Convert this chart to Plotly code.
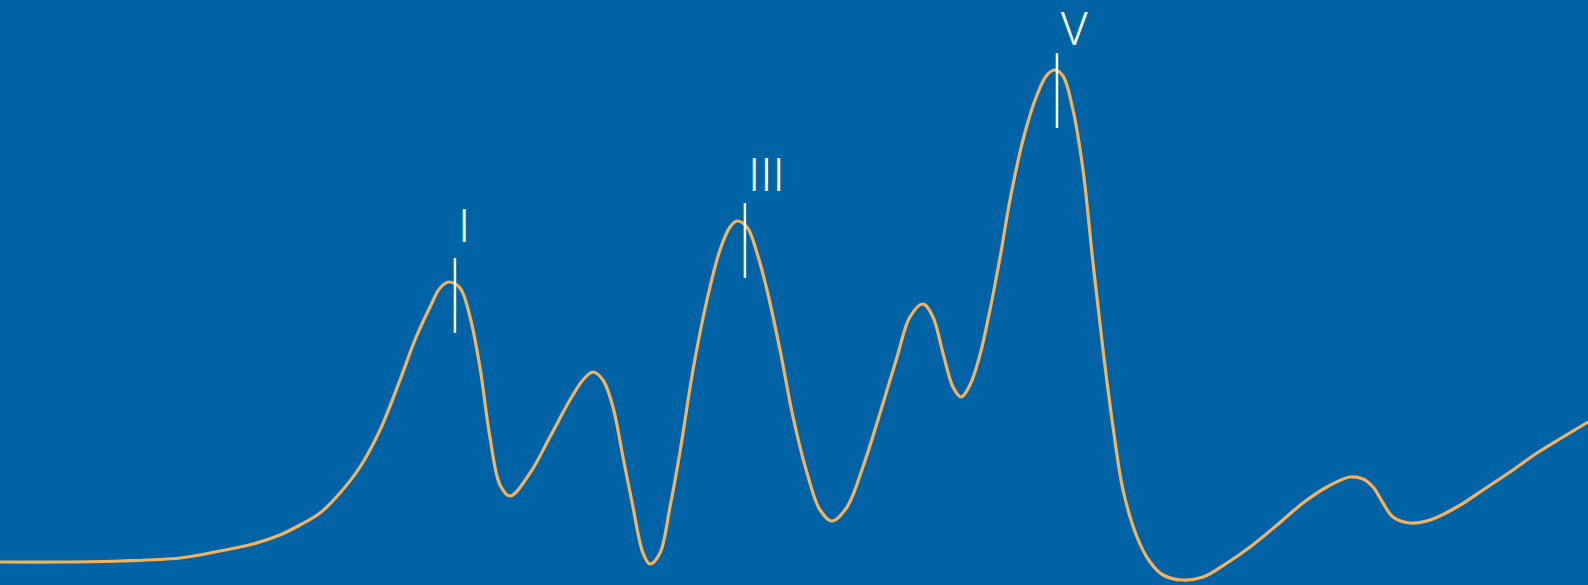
import plotly.graph_objects as go

# Waveform (latency in ms, amplitude in µV)
latency_ms = [0.0, 0.378, 0.756, 1.134, 1.354, 1.593, 1.763, 1.889, 2.015, 2.141, 2.267, 2.393, 2.519,
              2.613, 2.708, 2.771, 2.827, 2.897, 2.960, 3.023, 3.086, 3.149, 3.212, 3.338,
              3.463, 3.589, 3.671, 3.734, 3.797, 3.860, 3.923, 3.986, 4.049, 4.093, 4.156,
              4.219, 4.282, 4.364, 4.452, 4.534, 4.597, 4.641, 4.704, 4.767, 4.830, 4.912,
              4.994, 5.082, 5.164, 5.239, 5.334, 5.434, 5.542, 5.649, 5.730, 5.812, 5.875,
              5.938, 6.001, 6.052, 6.108, 6.171, 6.234, 6.297, 6.360, 6.442, 6.530, 6.593,
              6.644, 6.694, 6.757, 6.820, 6.883, 6.946, 7.009, 7.072, 7.160, 7.242, 7.324,
              7.443, 7.576, 7.727, 7.872, 8.042, 8.205, 8.356, 8.501, 8.583, 8.646, 8.709,
              8.772, 8.879, 9.005, 9.175, 9.339, 9.509, 9.679, 9.843, 10.0]
amplitude_uv = [0.23, 0.23, 0.24, 0.27, 0.33, 0.41, 0.50, 0.60, 0.72, 0.92, 1.18, 1.55, 2.05,
                2.45, 2.78, 2.97, 3.03, 2.97, 2.68, 2.17, 1.47, 1.00, 0.89, 1.12,
                1.48, 1.85, 2.05, 2.13, 2.05, 1.78, 1.28, 0.78, 0.32, 0.21, 0.32,
                0.78, 1.33, 2.15, 2.85, 3.35, 3.58, 3.64, 3.58, 3.32, 2.95, 2.35,
                1.68, 1.12, 0.75, 0.64, 0.78, 1.18, 1.72, 2.28, 2.68, 2.81, 2.68,
                2.32, 1.98, 1.88, 2.00, 2.30, 2.75, 3.27, 3.85, 4.45, 4.90, 5.10,
                5.15, 5.09, 4.75, 4.15, 3.22, 2.35, 1.58, 0.95, 0.48, 0.23, 0.10,
                0.05, 0.08, 0.22, 0.38, 0.60, 0.82, 0.98, 1.08, 1.06, 0.98, 0.82,
                0.68, 0.62, 0.65, 0.78, 0.95, 1.13, 1.32, 1.48, 1.63]

# Peak markers and labels
peak_labels = ["I", "III", "V"]
peak_latency_ms = [2.865, 4.691, 6.656]
marker_top_uv = [3.27, 3.82, 5.32]
marker_bottom_uv = [2.52, 3.07, 4.57]
label_center_uv = [3.595, 4.10, 5.565]

BG = "#0063A6"
LINE = "#F7B157"

fig = go.Figure()
fig.add_trace(go.Scatter(x=latency_ms, y=amplitude_uv, mode="lines",
                         line=dict(color=LINE, width=3.2, shape="spline", smoothing=1.0,
                                   simplify=False),
                         hoverinfo="skip", showlegend=False))

for lab, px, top, bot, ly in zip(peak_labels, peak_latency_ms, marker_top_uv,
                                 marker_bottom_uv, label_center_uv):
    fig.add_trace(go.Scatter(x=[px, px], y=[bot, top], mode="lines",
                             line=dict(color="white", width=2.5),
                             hoverinfo="skip", showlegend=False))
    fig.add_annotation(x=px, y=ly, text=lab, showarrow=False,
                       xanchor="left", yanchor="middle", xshift=1,
                       font=dict(family="Roboto", size=46, weight=300,
                                 color="white"))

fig.update_layout(
    width=1588, height=585,
    margin=dict(l=0, r=0, t=0, b=0),
    paper_bgcolor=BG, plot_bgcolor=BG,
    xaxis=dict(range=[0, 10], visible=False, fixedrange=True),
    yaxis=dict(range=[0, 5.85], visible=False, fixedrange=True),
    showlegend=False,
)

fig.write_html("out.html", config={"displayModeBar": False},
               post_script="document.body.style.margin='0';"
                           "document.body.style.overflow='hidden';"
                           "document.body.style.background='#0063A6';")
